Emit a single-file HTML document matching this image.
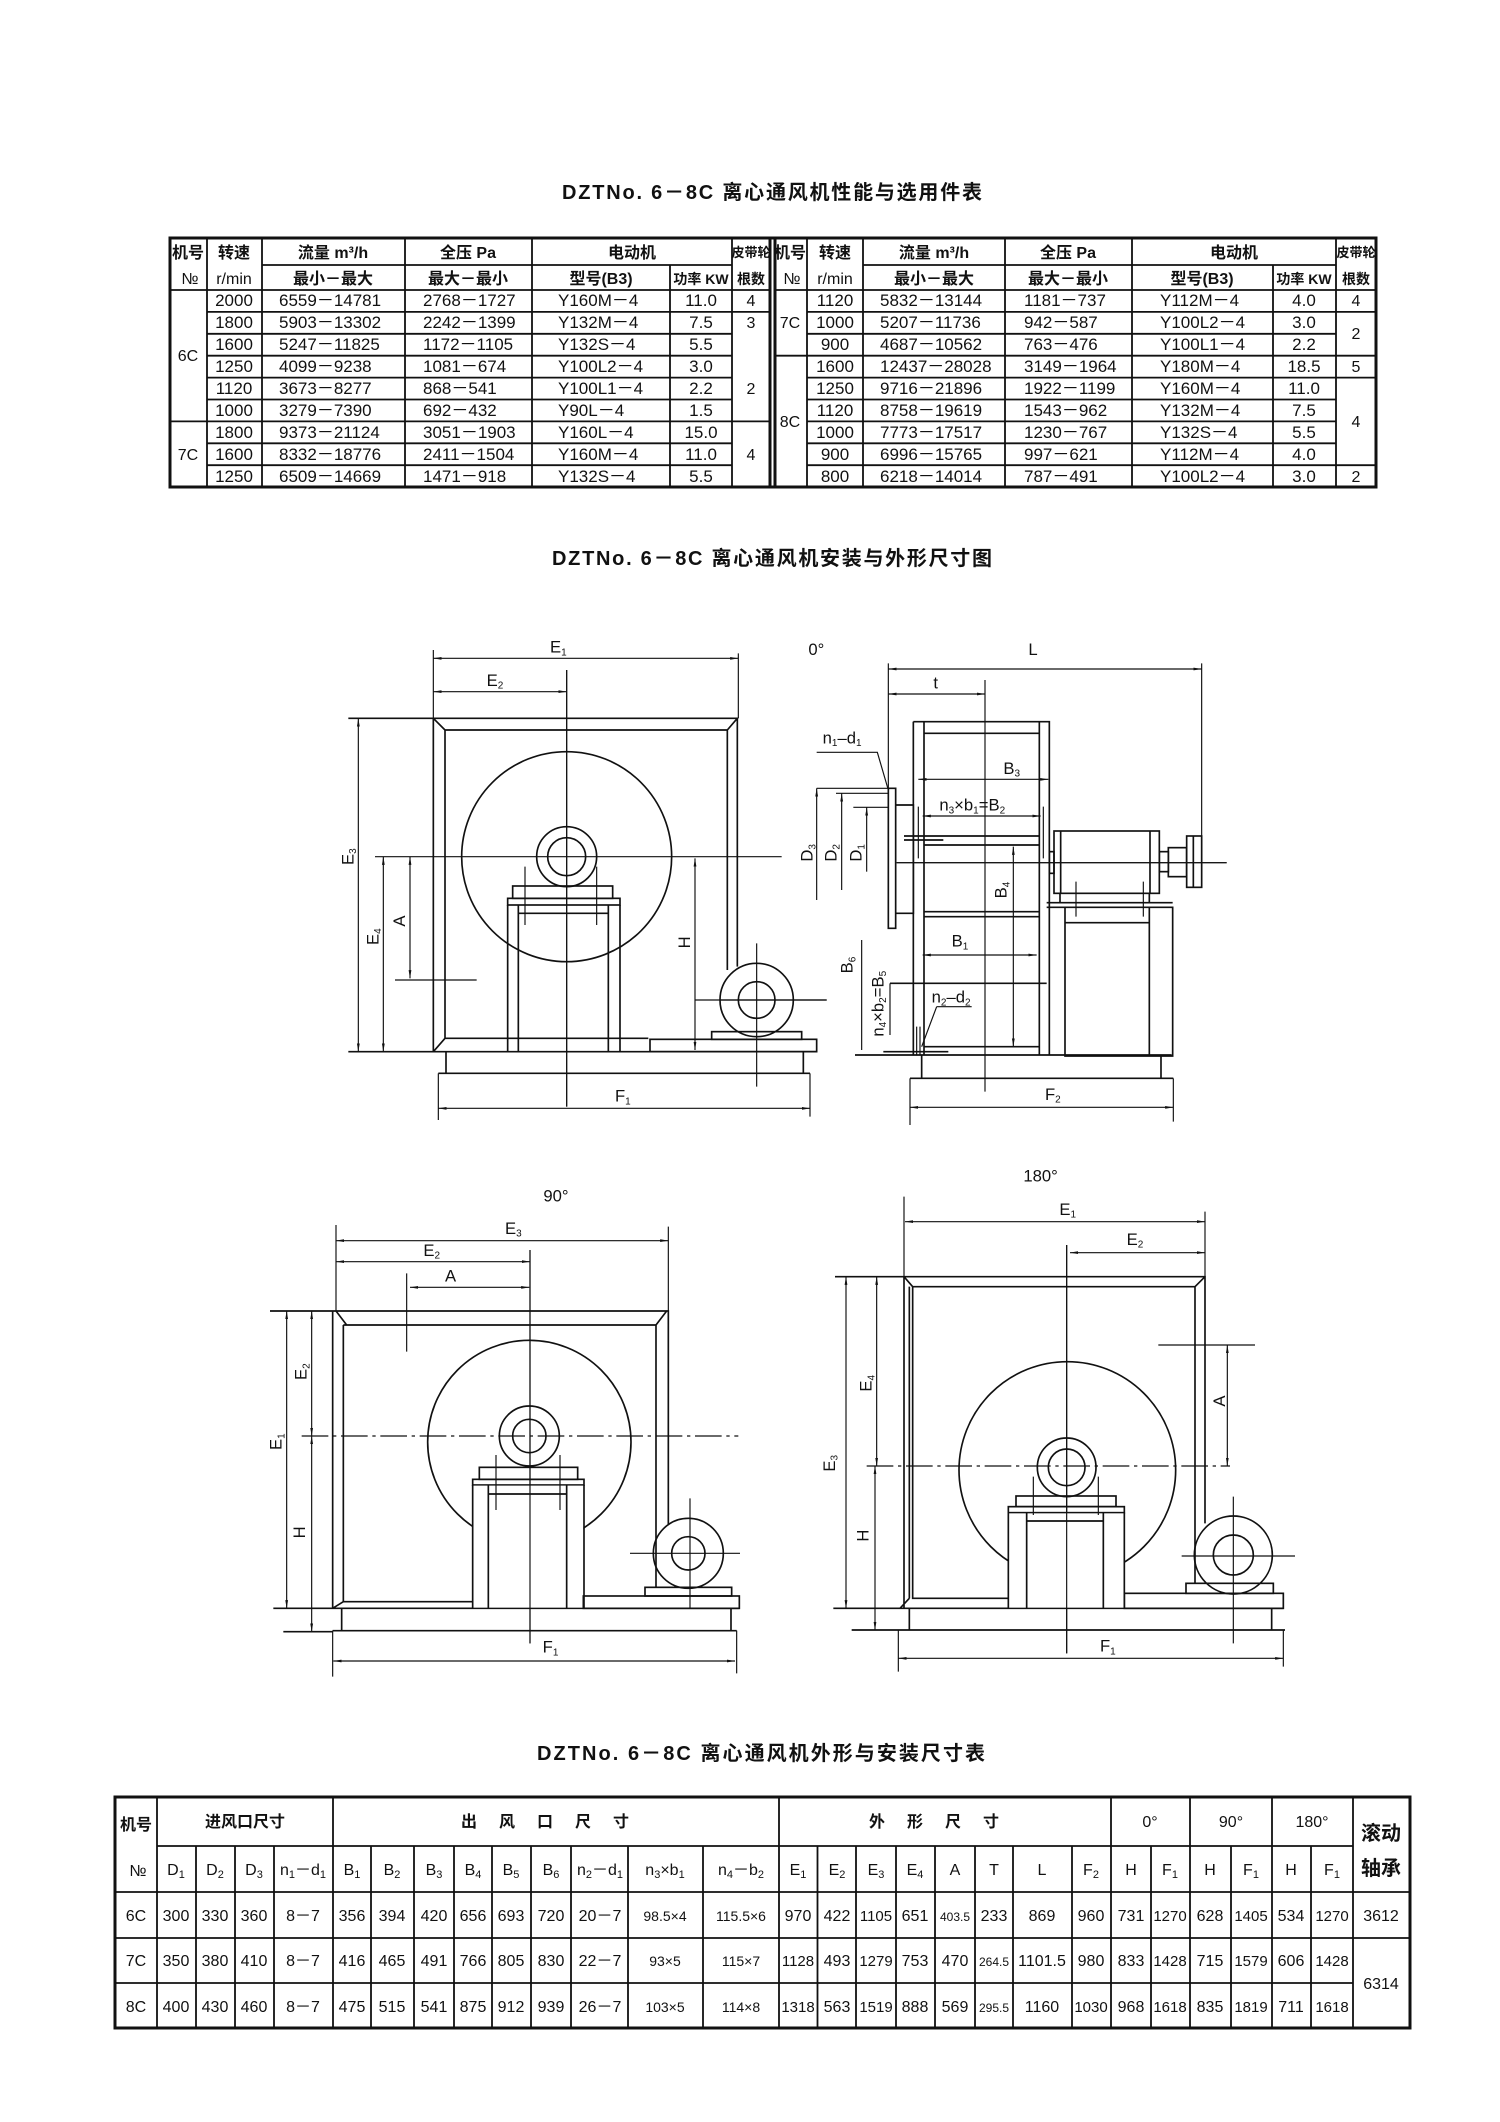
<!DOCTYPE html>
<html><head><meta charset="utf-8">
<style>
html,body{margin:0;padding:0;background:#fff;}
svg{display:block;}
text{font-family:"Liberation Sans","Noto Sans CJK SC",sans-serif;fill:#111;}
.cj{font-family:"Liberation Sans","Noto Sans CJK SC",sans-serif;font-weight:bold;}
.l{stroke:#111;stroke-width:5;fill:none;}
.t{stroke:#111;stroke-width:3.5;fill:none;}
.d{stroke:#111;stroke-width:3.5;fill:none;marker-start:url(#a);marker-end:url(#a);}
.g{stroke:#111;stroke-width:1.8;fill:none;}
.G{stroke:#111;stroke-width:3;fill:none;}
.z text{font-size:50px;}
</style></head><body>
<svg xmlns="http://www.w3.org/2000/svg" width="1500" height="2122" viewBox="0 0 1500 2122">
<defs>
<marker id="a" viewBox="0 0 10 5" refX="10" refY="2.5" markerWidth="7" markerHeight="3.5" orient="auto-start-reverse" markerUnits="strokeWidth"><path d="M0 0.8L10 2.5L0 4.2z" fill="#111"/></marker>
</defs>
<rect width="1500" height="2122" fill="#fff"/>

<!-- Titles -->
<text x="562" y="199" font-size="20" font-weight="bold" textLength="420">DZTNo. 6－8C 离心通风机性能与选用件表</text>
<text x="552" y="565" font-size="20" font-weight="bold" textLength="440">DZTNo. 6－8C 离心通风机安装与外形尺寸图</text>
<text x="537" y="1760" font-size="20" font-weight="bold" textLength="448">DZTNo. 6－8C 离心通风机外形与安装尺寸表</text>

<!-- ================= TOP TABLE ================= -->
<g>
<rect x="170" y="238" width="1206" height="249" class="G"/>
<path class="G" d="M770 238V487M775 238V487"/>
<path class="g" d="M207 238V487M262 238V487M405 238V487M532 238V487M670 265V487M732 238V487"/>
<path class="g" d="M807 238V487M863 238V487M1005 238V487M1132 238V487M1273 265V487M1336 238V487"/>
<path class="g" d="M262 265H732M863 265H1336M170 290H770M775 290H1376"/>
<path class="g" d="M207 311.9H770M207 333.8H732M207 355.7H732M207 377.6H732M207 399.5H732M170 421.4H770M207 443.3H732M207 465.2H732"/>
<path class="g" d="M807 311.9H1376M807 333.8H1336M775 355.7H1376M807 377.6H1376M807 399.5H1336M807 421.4H1336M807 443.3H1336M807 465.2H1376"/>
</g>
<g font-size="16" text-anchor="middle">
<text class="cj" x="188" y="258">机号</text><text x="190" y="284">№</text>
<text class="cj" x="234" y="258">转速</text><text x="234" y="284" font-family="Liberation Serif">r/min</text>
<text class="cj" x="333" y="258">流量 m³/h</text><text class="cj" x="333" y="284">最小－最大</text>
<text class="cj" x="468" y="258">全压 Pa</text><text class="cj" x="468" y="284">最大－最小</text>
<text class="cj" x="632" y="258">电动机</text><text class="cj" x="601" y="284">型号(B3)</text><text class="cj" x="701" y="284" font-size="14">功率 KW</text>
<text class="cj" x="751" y="257" font-size="13">皮带轮</text><text class="cj" x="751" y="284" font-size="14">根数</text>
<text class="cj" x="790" y="258">机号</text><text x="792" y="284">№</text>
<text class="cj" x="835" y="258">转速</text><text x="835" y="284" font-family="Liberation Serif">r/min</text>
<text class="cj" x="934" y="258">流量 m³/h</text><text class="cj" x="934" y="284">最小－最大</text>
<text class="cj" x="1068" y="258">全压 Pa</text><text class="cj" x="1068" y="284">最大－最小</text>
<text class="cj" x="1234" y="258">电动机</text><text class="cj" x="1202" y="284">型号(B3)</text><text class="cj" x="1304" y="284" font-size="14">功率 KW</text>
<text class="cj" x="1356" y="257" font-size="13">皮带轮</text><text class="cj" x="1356" y="284" font-size="14">根数</text>
<text x="188" y="361">6C</text><text x="188" y="460">7C</text>
<text x="751" y="306">4</text><text x="751" y="328">3</text><text x="751" y="394">2</text><text x="751" y="460">4</text>
<text x="790" y="328">7C</text><text x="790" y="427">8C</text>
<text x="1356" y="306">4</text><text x="1356" y="339">2</text><text x="1356" y="372">5</text><text x="1356" y="427">4</text><text x="1356" y="482">2</text>
</g>
<g font-size="17">
<g text-anchor="middle">
<text x="234" y="306">2000</text><text x="234" y="328">1800</text><text x="234" y="350">1600</text><text x="234" y="372">1250</text><text x="234" y="394">1120</text><text x="234" y="416">1000</text><text x="234" y="438">1800</text><text x="234" y="460">1600</text><text x="234" y="482">1250</text>
<text x="701" y="306">11.0</text><text x="701" y="328">7.5</text><text x="701" y="350">5.5</text><text x="701" y="372">3.0</text><text x="701" y="394">2.2</text><text x="701" y="416">1.5</text><text x="701" y="438">15.0</text><text x="701" y="460">11.0</text><text x="701" y="482">5.5</text>
<text x="835" y="306">1120</text><text x="835" y="328">1000</text><text x="835" y="350">900</text><text x="835" y="372">1600</text><text x="835" y="394">1250</text><text x="835" y="416">1120</text><text x="835" y="438">1000</text><text x="835" y="460">900</text><text x="835" y="482">800</text>
<text x="1304" y="306">4.0</text><text x="1304" y="328">3.0</text><text x="1304" y="350">2.2</text><text x="1304" y="372">18.5</text><text x="1304" y="394">11.0</text><text x="1304" y="416">7.5</text><text x="1304" y="438">5.5</text><text x="1304" y="460">4.0</text><text x="1304" y="482">3.0</text>
</g>
<text x="279" y="306">6559－14781</text><text x="279" y="328">5903－13302</text><text x="279" y="350">5247－11825</text><text x="279" y="372">4099－9238</text><text x="279" y="394">3673－8277</text><text x="279" y="416">3279－7390</text><text x="279" y="438">9373－21124</text><text x="279" y="460">8332－18776</text><text x="279" y="482">6509－14669</text>
<text x="423" y="306">2768－1727</text><text x="423" y="328">2242－1399</text><text x="423" y="350">1172－1105</text><text x="423" y="372">1081－674</text><text x="423" y="394">868－541</text><text x="423" y="416">692－432</text><text x="423" y="438">3051－1903</text><text x="423" y="460">2411－1504</text><text x="423" y="482">1471－918</text>
<text x="558" y="306">Y160M－4</text><text x="558" y="328">Y132M－4</text><text x="558" y="350">Y132S－4</text><text x="558" y="372">Y100L2－4</text><text x="558" y="394">Y100L1－4</text><text x="558" y="416">Y90L－4</text><text x="558" y="438">Y160L－4</text><text x="558" y="460">Y160M－4</text><text x="558" y="482">Y132S－4</text>
<text x="880" y="306">5832－13144</text><text x="880" y="328">5207－11736</text><text x="880" y="350">4687－10562</text><text x="880" y="372">12437－28028</text><text x="880" y="394">9716－21896</text><text x="880" y="416">8758－19619</text><text x="880" y="438">7773－17517</text><text x="880" y="460">6996－15765</text><text x="880" y="482">6218－14014</text>
<text x="1024" y="306">1181－737</text><text x="1024" y="328">942－587</text><text x="1024" y="350">763－476</text><text x="1024" y="372">3149－1964</text><text x="1024" y="394">1922－1199</text><text x="1024" y="416">1543－962</text><text x="1024" y="438">1230－767</text><text x="1024" y="460">997－621</text><text x="1024" y="482">787－491</text>
<text x="1160" y="306">Y112M－4</text><text x="1160" y="328">Y100L2－4</text><text x="1160" y="350">Y100L1－4</text><text x="1160" y="372">Y180M－4</text><text x="1160" y="394">Y160M－4</text><text x="1160" y="416">Y132M－4</text><text x="1160" y="438">Y132S－4</text><text x="1160" y="460">Y112M－4</text><text x="1160" y="482">Y100L2－4</text>
</g>

<!-- ================= FRONT VIEW 0° ================= -->
<g class="z" transform="translate(320 620) scale(0.33333)">
<path class="d" d="M340 115H1255"/>
<path class="t" d="M340 90V295M1255 100V295"/>
<path class="d" d="M340 215H740"/>
<path class="t" d="M740 150V1460"/>
<text x="690" y="98">E<tspan font-size="30" dy="8">1</tspan></text>
<text x="500" y="198">E<tspan font-size="30" dy="8">2</tspan></text>
<path class="l" d="M340 295H1252V1040M340 295V1295M375 330H1222V1050M375 330V1255H985M340 295L375 330M1252 295L1222 330M340 1295L375 1255"/>
<path class="l" d="M85 1295H1490M85 295H340"/>
<path class="d" d="M115 295V1295"/>
<path class="d" d="M190 710V1295"/>
<path class="d" d="M270 710V1075"/>
<path class="t" d="M225 1080H470M165 710H1385"/>
<text transform="translate(100 735) rotate(-90)">E<tspan font-size="30" dy="8">3</tspan></text>
<text transform="translate(175 975) rotate(-90)">E<tspan font-size="30" dy="8">4</tspan></text>
<text transform="translate(255 920) rotate(-90)">A</text>
<circle class="l" cx="740" cy="710" r="315"/>
<circle class="l" cx="740" cy="710" r="90"/>
<circle class="l" cx="740" cy="710" r="57"/>
<rect class="l" x="578" y="798" width="300" height="37" fill="#fff"/>
<rect class="l" x="563" y="835" width="337" height="20" fill="#fff"/>
<path class="l" d="M563 855V1295M595 855V1295M865 855V1295M900 855V1295M595 880H865"/>
<path class="t" d="M615 740V915M830 740V915M740 150V1460"/>
<path class="d" d="M1125 715V1290"/>
<path class="t" d="M1125 1140H1520"/>
<text transform="translate(1110 985) rotate(-90)">H</text>
<circle class="l" cx="1310" cy="1140" r="110" fill="#fff"/>
<circle class="l" cx="1310" cy="1140" r="55"/>
<path class="t" d="M1310 970V1400M1200 1140H1520"/>
<rect class="l" x="1175" y="1235" width="270" height="23"/>
<rect class="l" x="990" y="1258" width="500" height="37"/>
<path class="l" d="M378 1295V1360M1450 1295V1360M355 1360H1470"/>
<path class="t" d="M355 1360V1500M1470 1360V1490"/>
<path class="d" d="M355 1465H1470"/>
<text x="885" y="1445">F<tspan font-size="30" dy="8">1</tspan></text>
</g>

<!-- ================= SIDE VIEW ================= -->
<g class="z" transform="translate(800 620) scale(0.33333)">
<text x="25" y="105">0°</text>
<text x="685" y="105">L</text>
<path class="d" d="M265 147H1205"/>
<path class="t" d="M265 130V510M1205 130V650"/>
<text x="400" y="205">t</text>
<path class="d" d="M265 222H555"/>
<path class="t" d="M555 180V1415"/>
<path class="l" d="M340 305H748V1305M340 305V1305M372 305V1305M718 305V1305M372 340H718"/>
<path class="d" d="M355 478H745"/>
<text x="610" y="462">B<tspan font-size="30" dy="8">3</tspan></text>
<text x="418" y="572">n<tspan font-size="30" dy="8">3</tspan><tspan dy="-8">×b</tspan><tspan font-size="30" dy="8">1</tspan><tspan dy="-8">=B</tspan><tspan font-size="30" dy="8">2</tspan></text>
<path class="d" d="M368 588H722"/>
<path class="l" d="M372 648H718M372 675H718M312 648H430M312 660H430"/>
<path class="t" d="M355 560V715M730 560V715"/>
<path class="d" d="M640 680V1280"/>
<text transform="translate(620 835) rotate(-90)">B<tspan font-size="30" dy="8">4</tspan></text>
<path class="l" d="M372 875H718M372 890H718"/>
<path class="d" d="M368 1005H710"/>
<text x="455" y="980">B<tspan font-size="30" dy="8">1</tspan></text>
<path class="l" d="M270 1090H740"/>
<text x="395" y="1148">n<tspan font-size="30" dy="8">2</tspan><tspan dy="-8">–d</tspan><tspan font-size="30" dy="8">2</tspan></text>
<path class="t" d="M410 1160H515M410 1160L365 1280"/>
<path class="l" d="M372 1280H718M250 1295H445M165 1305H1115"/>
<path class="t" d="M350 1220V1305M360 1220V1305"/>
<path class="l" d="M265 505H287V925H265ZM287 555H340V880H287"/>
<text x="68" y="370">n<tspan font-size="30" dy="8">1</tspan><tspan dy="-8">–d</tspan><tspan font-size="30" dy="8">1</tspan></text>
<path class="t" d="M50 397H232L265 510"/>
<path class="t" d="M50 505H265M108 520H265M160 562H265"/>
<path class="d" d="M50 505V840" style="marker-end:none"/>
<path class="d" d="M125 520V810" style="marker-end:none"/>
<path class="d" d="M200 562V755" style="marker-end:none"/>
<text transform="translate(38 725) rotate(-90)">D<tspan font-size="30" dy="8">3</tspan></text>
<text transform="translate(110 725) rotate(-90)">D<tspan font-size="30" dy="8">2</tspan></text>
<text transform="translate(185 725) rotate(-90)">D<tspan font-size="30" dy="8">1</tspan></text>
<path class="t" d="M290 728H1280"/>
<rect class="l" x="762" y="633" width="316" height="187" fill="#fff"/>
<path class="l" d="M782 633V820M1050 633V820"/>
<rect class="l" x="748" y="695" width="14" height="65"/>
<rect class="l" x="1078" y="695" width="27" height="60"/>
<rect class="l" x="1105" y="683" width="55" height="87"/>
<rect class="l" x="1160" y="648" width="45" height="154"/>
<path class="l" d="M1180 648V802"/>
<path class="t" d="M290 728H1280"/>
<path class="l" d="M740 848H1118M740 862H1118V1308H795V862M1048 862V1308M795 908H1048M780 820V848M1048 820V848"/>
<path class="t" d="M828 785V890M1030 785V890"/>
<path class="l" d="M365 1305V1375M1083 1305V1375M330 1375H1120"/>
<path class="t" d="M330 1375V1515M1120 1375V1505"/>
<path class="d" d="M330 1462H1120"/>
<text x="735" y="1440">F<tspan font-size="30" dy="8">2</tspan></text>
<path class="t" d="M185 960V1290M270 1090V1245"/>
<text transform="translate(158 1060) rotate(-90)">B<tspan font-size="30" dy="8">6</tspan></text>
<text transform="translate(250 1250) rotate(-90)">n<tspan font-size="30" dy="8">4</tspan><tspan dy="-8">×b</tspan><tspan font-size="30" dy="8">2</tspan><tspan dy="-8">=B</tspan><tspan font-size="30" dy="8">5</tspan></text>
</g>

<!-- ================= 90° VIEW ================= -->
<g class="z" transform="translate(250 1180) scale(0.33333)">
<text x="880" y="65">90°</text>
<path class="d" d="M258 182H1255"/>
<path class="t" d="M258 135V393M1255 140V393"/>
<text x="765" y="162">E<tspan font-size="30" dy="8">3</tspan></text>
<path class="d" d="M258 245H840"/>
<text x="520" y="228">E<tspan font-size="30" dy="8">2</tspan></text>
<path class="d" d="M480 322H838"/>
<text x="585" y="305">A</text>
<path class="t" d="M470 280V515M840 210V1390"/>
<path class="l" d="M60 393H1255V1035M248 393V1285M280 435H1218V1220M280 435V1265H1000M258 393L290 435M1250 393L1218 435M248 1285L280 1265"/>
<path class="l" d="M70 1285H1468"/>
<path class="d" d="M110 393V1285"/>
<path class="d" d="M185 393V768"/>
<path class="d" d="M185 768V1355"/>
<text transform="translate(95 810) rotate(-90)">E<tspan font-size="30" dy="8">1</tspan></text>
<text transform="translate(170 600) rotate(-90)">E<tspan font-size="30" dy="8">2</tspan></text>
<text transform="translate(165 1075) rotate(-90)">H</text>
<path class="t" d="M155 768H1465" stroke-dasharray="80 14 10 14"/>
<circle class="l" cx="838" cy="786" r="305"/>
<circle class="l" cx="838" cy="768" r="90"/>
<circle class="l" cx="838" cy="768" r="50"/>
<rect class="l" x="688" y="862" width="295" height="36" fill="#fff"/>
<rect class="l" x="668" y="898" width="334" height="17" fill="#fff"/>
<rect x="670" y="917" width="330" height="366" fill="#fff"/>
<path class="l" d="M668 915V1285M715 915V1285M950 915V1285M1002 915V1285M715 942H950"/>
<path class="t" d="M738 825V990M930 825V990M840 210V1390"/>
<circle class="l" cx="1315" cy="1120" r="105" fill="#fff"/>
<circle class="l" cx="1315" cy="1120" r="50"/>
<path class="t" d="M1140 1120H1470M1320 955V1285"/>
<rect class="l" x="1185" y="1222" width="260" height="26"/>
<rect class="l" x="1000" y="1248" width="468" height="37"/>
<path class="l" d="M275 1285V1352M1443 1285V1352M100 1355H248M248 1352H1460"/>
<path class="t" d="M248 1352V1490M1460 1352V1480"/>
<path class="d" d="M250 1443H1455"/>
<text x="878" y="1418">F<tspan font-size="30" dy="8">1</tspan></text>
</g>

<!-- ================= 180° VIEW ================= -->
<g class="z" transform="translate(820 1160) scale(0.33333)">
<text x="610" y="65">180°</text>
<path class="d" d="M255 185H1155"/>
<path class="t" d="M252 110V350M1155 155V350"/>
<text x="718" y="165">E<tspan font-size="30" dy="8">1</tspan></text>
<path class="d" d="M750 278H1155"/>
<text x="920" y="255">E<tspan font-size="30" dy="8">2</tspan></text>
<path class="t" d="M740 255V1480"/>
<path class="l" d="M45 350H1155V1090M252 350V1345M268 380V1315M278 380H1125V1270M278 380V1315H565M252 350L278 380M1155 350L1125 380M240 1345L268 1315"/>
<path class="l" d="M40 1345H1390"/>
<path class="d" d="M78 350V1345"/>
<path class="d" d="M170 350V918"/>
<path class="d" d="M165 918V1410"/>
<text transform="translate(45 935) rotate(-90)">E<tspan font-size="30" dy="8">3</tspan></text>
<text transform="translate(155 695) rotate(-90)">E<tspan font-size="30" dy="8">4</tspan></text>
<text transform="translate(145 1145) rotate(-90)">H</text>
<path class="t" d="M140 918H1230" stroke-dasharray="80 14 10 14"/>
<path class="t" d="M1015 555H1305"/>
<path class="d" d="M1222 555V918"/>
<text transform="translate(1215 740) rotate(-90)">A</text>
<circle class="l" cx="742" cy="930" r="325"/>
<circle class="l" cx="740" cy="922" r="88"/>
<circle class="l" cx="740" cy="922" r="55"/>
<rect class="l" x="588" y="1008" width="300" height="32" fill="#fff"/>
<rect class="l" x="565" y="1040" width="348" height="18" fill="#fff"/>
<rect x="567" y="1060" width="344" height="283" fill="#fff"/>
<path class="l" d="M565 1058V1345M620 1058V1345M850 1058V1345M913 1058V1345M620 1083H850"/>
<path class="t" d="M640 950V1065M835 950V1065M740 255V1480"/>
<circle class="l" cx="1240" cy="1185" r="117" fill="#fff"/>
<circle class="l" cx="1240" cy="1185" r="60"/>
<path class="t" d="M1085 1188H1425M1240 1010V1450"/>
<rect class="l" x="1098" y="1270" width="262" height="30"/>
<rect class="l" x="913" y="1300" width="477" height="45"/>
<path class="l" d="M268 1345V1410M1355 1345V1410M95 1410H1395"/>
<path class="t" d="M235 1410V1535M1390 1410V1520"/>
<path class="d" d="M235 1495H1390"/>
<text x="840" y="1475">F<tspan font-size="30" dy="8">1</tspan></text>
</g>

<!-- ================= BOTTOM TABLE ================= -->
<g>
<rect x="115" y="1797" width="1295" height="231" class="G"/>
<path class="g" d="M157 1797V2028M333 1797V2028M779 1797V2028M1111 1797V2028M1190 1797V2028M1272 1797V2028M1353 1797V2028"/>
<path class="g" d="M196 1846V2028M235 1846V2028M274 1846V2028M371 1846V2028M414 1846V2028M454 1846V2028M492 1846V2028M531 1846V2028M571 1846V2028M628 1846V2028M703 1846V2028M817.5 1846V2028M856 1846V2028M896 1846V2028M935 1846V2028M975 1846V2028M1013 1846V2028M1072 1846V2028M1151 1846V2028M1231 1846V2028M1311 1846V2028"/>
<path class="g" d="M157 1846H1353M115 1892H1410M115 1938H1410M115 1983H1353"/>
</g>
<g font-size="16" text-anchor="middle">
<text class="cj" x="136" y="1830">机号</text><text x="138" y="1876">№</text>
<text class="cj" x="245" y="1827">进风口尺寸</text>
<text class="cj" x="556" y="1827" letter-spacing="22">出风口尺寸</text>
<text class="cj" x="945" y="1827" letter-spacing="22">外形尺寸</text>
<text x="1150" y="1827">0°</text><text x="1231" y="1827">90°</text><text x="1312" y="1827">180°</text>
<text class="cj" x="1381" y="1840" font-size="20">滚动</text><text class="cj" x="1381" y="1875" font-size="20">轴承</text>
</g>
<g font-size="16" text-anchor="middle">
<text x="176" y="1875">D<tspan font-size="11" dy="3">1</tspan></text>
<text x="215" y="1875">D<tspan font-size="11" dy="3">2</tspan></text>
<text x="254" y="1875">D<tspan font-size="11" dy="3">3</tspan></text>
<text x="303" y="1875">n<tspan font-size="11" dy="3">1</tspan><tspan dy="-3">－d</tspan><tspan font-size="11" dy="3">1</tspan></text>
<text x="352" y="1875">B<tspan font-size="11" dy="3">1</tspan></text>
<text x="392" y="1875">B<tspan font-size="11" dy="3">2</tspan></text>
<text x="434" y="1875">B<tspan font-size="11" dy="3">3</tspan></text>
<text x="473" y="1875">B<tspan font-size="11" dy="3">4</tspan></text>
<text x="511" y="1875">B<tspan font-size="11" dy="3">5</tspan></text>
<text x="551" y="1875">B<tspan font-size="11" dy="3">6</tspan></text>
<text x="600" y="1875">n<tspan font-size="11" dy="3">2</tspan><tspan dy="-3">－d</tspan><tspan font-size="11" dy="3">1</tspan></text>
<text x="665" y="1875">n<tspan font-size="11" dy="3">3</tspan><tspan dy="-3">×b</tspan><tspan font-size="11" dy="3">1</tspan></text>
<text x="741" y="1875">n<tspan font-size="11" dy="3">4</tspan><tspan dy="-3">－b</tspan><tspan font-size="11" dy="3">2</tspan></text>
<text x="798" y="1875">E<tspan font-size="11" dy="3">1</tspan></text>
<text x="837" y="1875">E<tspan font-size="11" dy="3">2</tspan></text>
<text x="876" y="1875">E<tspan font-size="11" dy="3">3</tspan></text>
<text x="915" y="1875">E<tspan font-size="11" dy="3">4</tspan></text>
<text x="955" y="1875">A</text><text x="994" y="1875">T</text><text x="1042" y="1875">L</text>
<text x="1091" y="1875">F<tspan font-size="11" dy="3">2</tspan></text>
<text x="1131" y="1875">H</text><text x="1170" y="1875">F<tspan font-size="11" dy="3">1</tspan></text>
<text x="1210" y="1875">H</text><text x="1251" y="1875">F<tspan font-size="11" dy="3">1</tspan></text>
<text x="1291" y="1875">H</text><text x="1332" y="1875">F<tspan font-size="11" dy="3">1</tspan></text>
</g>
<g font-size="16" text-anchor="middle">
<text x="136" y="1921">6C</text><text x="176" y="1921">300</text><text x="215" y="1921">330</text><text x="254" y="1921">360</text><text x="303" y="1921">8－7</text>
<text x="352" y="1921">356</text><text x="392" y="1921">394</text><text x="434" y="1921">420</text><text x="473" y="1921">656</text><text x="511" y="1921">693</text><text x="551" y="1921">720</text>
<text x="600" y="1921">20－7</text><text x="665" y="1921" font-size="14">98.5×4</text><text x="741" y="1921" font-size="14">115.5×6</text>
<text x="798" y="1921">970</text><text x="837" y="1921">422</text><text x="876" y="1921" font-size="15">1105</text><text x="915" y="1921">651</text><text x="955" y="1921" font-size="12">403.5</text><text x="994" y="1921">233</text><text x="1042" y="1921">869</text><text x="1091" y="1921">960</text>
<text x="1131" y="1921">731</text><text x="1170" y="1921" font-size="15">1270</text><text x="1210" y="1921">628</text><text x="1251" y="1921" font-size="15">1405</text><text x="1291" y="1921">534</text><text x="1332" y="1921" font-size="15">1270</text><text x="1381" y="1921">3612</text>
<text x="136" y="1966">7C</text><text x="176" y="1966">350</text><text x="215" y="1966">380</text><text x="254" y="1966">410</text><text x="303" y="1966">8－7</text>
<text x="352" y="1966">416</text><text x="392" y="1966">465</text><text x="434" y="1966">491</text><text x="473" y="1966">766</text><text x="511" y="1966">805</text><text x="551" y="1966">830</text>
<text x="600" y="1966">22－7</text><text x="665" y="1966" font-size="14">93×5</text><text x="741" y="1966" font-size="14">115×7</text>
<text x="798" y="1966" font-size="15">1128</text><text x="837" y="1966">493</text><text x="876" y="1966" font-size="15">1279</text><text x="915" y="1966">753</text><text x="955" y="1966">470</text><text x="994" y="1966" font-size="12">264.5</text><text x="1042" y="1966">1101.5</text><text x="1091" y="1966">980</text>
<text x="1131" y="1966">833</text><text x="1170" y="1966" font-size="15">1428</text><text x="1210" y="1966">715</text><text x="1251" y="1966" font-size="15">1579</text><text x="1291" y="1966">606</text><text x="1332" y="1966" font-size="15">1428</text>
<text x="1381" y="1989">6314</text>
<text x="136" y="2012">8C</text><text x="176" y="2012">400</text><text x="215" y="2012">430</text><text x="254" y="2012">460</text><text x="303" y="2012">8－7</text>
<text x="352" y="2012">475</text><text x="392" y="2012">515</text><text x="434" y="2012">541</text><text x="473" y="2012">875</text><text x="511" y="2012">912</text><text x="551" y="2012">939</text>
<text x="600" y="2012">26－7</text><text x="665" y="2012" font-size="14">103×5</text><text x="741" y="2012" font-size="14">114×8</text>
<text x="798" y="2012" font-size="15">1318</text><text x="837" y="2012">563</text><text x="876" y="2012" font-size="15">1519</text><text x="915" y="2012">888</text><text x="955" y="2012">569</text><text x="994" y="2012" font-size="12">295.5</text><text x="1042" y="2012">1160</text><text x="1091" y="2012" font-size="15">1030</text>
<text x="1131" y="2012">968</text><text x="1170" y="2012" font-size="15">1618</text><text x="1210" y="2012">835</text><text x="1251" y="2012" font-size="15">1819</text><text x="1291" y="2012">711</text><text x="1332" y="2012" font-size="15">1618</text>
</g>
</svg>
</body></html>
